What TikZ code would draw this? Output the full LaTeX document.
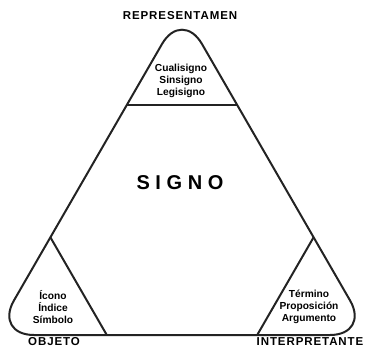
\documentclass[tikz,border=0pt]{standalone}
\usepackage{fontspec}
\setmainfont{Liberation Sans}
\newfontfamily\spacedfont[LetterSpace=8]{Liberation Sans}
\newfontfamily\widefont[LetterSpace=28]{Liberation Sans}
\usetikzlibrary{calc}
\definecolor{TriGray}{RGB}{35,35,35}
\tikzset{edge/.style={draw=TriGray,line width=2pt}, corner/.style={font=\fontsize{11.5}{13}\spacedfont\bfseries,inner sep=0pt}, sub/.style={align=center,font=\fontsize{10.2}{12.2}\selectfont\bfseries,inner sep=0pt}, signlab/.style={font=\fontsize{20}{22}\widefont\bfseries,inner sep=0pt}}

\begin{document}
\begin{tikzpicture}[x=1pt,y=-1pt]
\useasboundingbox (0,0) rectangle (365,351);
\coordinate (ta) at (182,9.4);
\coordinate (tl) at (-6,335);
\coordinate (tr) at (370,335);
\coordinate (tm) at ($(tl)!0.5!(tr)$);
\coordinate (ca) at ($(ta)!0.294!(tl)$);
\coordinate (cb) at ($(ta)!0.294!(tr)$);
\coordinate (cc) at ($(tl)!0.3!(ta)$);
\coordinate (cd) at ($(tl)!0.3!(tr)$);
\coordinate (ce) at ($(tr)!0.3!(ta)$);
\coordinate (cf) at ($(tr)!0.3!(tl)$);
\draw[edge,rounded corners=40pt] (tm) -- (tr) -- (ta) -- (tl) -- cycle;
\draw[edge] (ca) -- (cb);
\draw[edge] (cc) -- (cd);
\draw[edge] (ce) -- (cf);
\node[corner] (rep) at (180,16) {REPRESENTAMEN};
\node[corner] (obj) at (54,342) {OBJETO};
\node[corner] (int) at (310,342) {INTERPRETANTE};
\node[signlab] (signo) at (180,183) {SIGNO};
\node[sub] (repsub) at (181,81) {Cualisigno\\Sinsigno\\Legisigno};
\node[sub] (objsub) at (53,307) {Ícono\\Índice\\Símbolo};
\node[sub] (intsub) at (309,307) {Término\\Proposición\\Argumento};
\end{tikzpicture}
\end{document}
